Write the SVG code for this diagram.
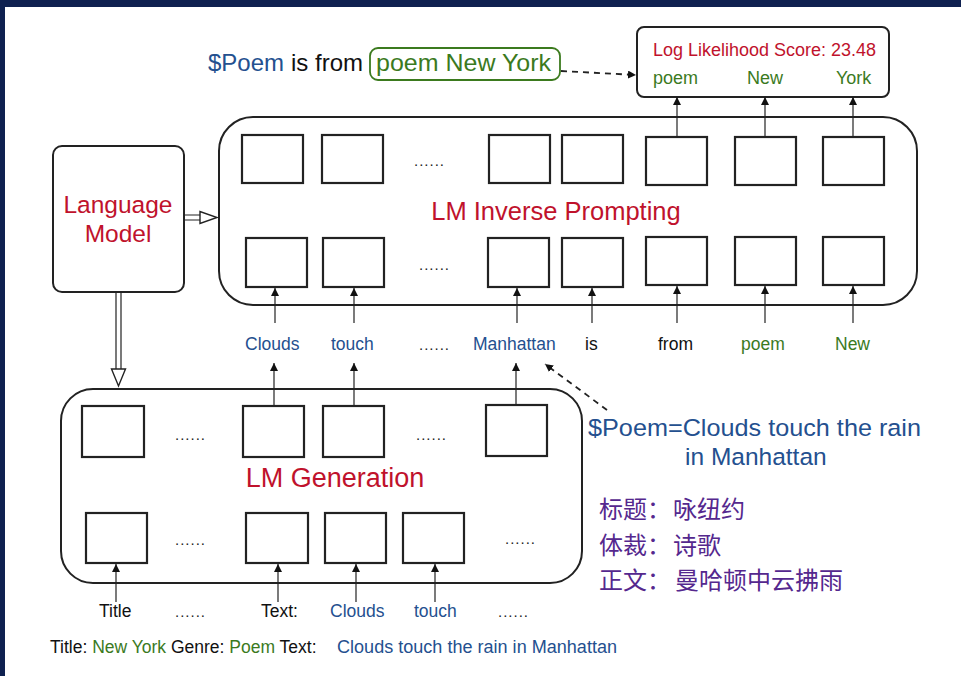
<svg xmlns="http://www.w3.org/2000/svg" width="961" height="676" viewBox="0 0 961 676">
<defs>
<style>
text{font-family:"Liberation Sans",Arial,"Noto Sans CJK SC",sans-serif;}
.box{fill:#fff;stroke:#222;stroke-width:2;}
.cell{fill:#fff;stroke:#222;stroke-width:2.2;}
.con{stroke:#222;stroke-width:1.2;fill:none;}
.dash{stroke:#222;stroke-width:1.8;fill:none;stroke-dasharray:6 5;}
.red{fill:#c0122c;}
.blue{fill:#24508f;}
.green{fill:#3b7a1e;}
.blk{fill:#111;}
.purple{fill:#55288e;}
.dots{font-size:15px;fill:#222;letter-spacing:1px;}
.hollow{fill:#fff;stroke:#222;stroke-width:1.4;}
</style>
<marker id="ah" viewBox="0 0 10 10" refX="10" refY="5" markerWidth="8" markerHeight="8" markerUnits="userSpaceOnUse" orient="auto">
<path d="M0,0 L10,5 L0,10 z" fill="#111"/>
</marker>
</defs>
<rect x="0" y="0" width="961" height="676" fill="#0f2150"/>
<rect x="5" y="7" width="956" height="669" fill="#fff"/>

<g id="query">
<text x="208" y="71" font-size="24"><tspan class="blue">$Poem</tspan><tspan class="blk" x="291">is from</tspan></text>
<rect x="370" y="48" width="190" height="32" rx="8" fill="none" stroke="#3b7a1e" stroke-width="1.8"/>
<text x="376" y="71" font-size="24.5" class="green" textLength="175" lengthAdjust="spacingAndGlyphs">poem New York</text>
</g>

<g id="score">
<rect class="box" x="637" y="27" width="252" height="70" rx="7"/>
<text x="653" y="56" font-size="18" class="red" textLength="223" lengthAdjust="spacingAndGlyphs">Log Likelihood Score: 23.48</text>
<text x="653" y="84" font-size="18" class="green">poem</text>
<text x="747" y="84" font-size="18" class="green">New</text>
<text x="836" y="84" font-size="18" class="green">York</text>
</g>

<g id="language-model">
<rect class="box" x="53" y="146" width="131" height="146" rx="9"/>
<text x="118" y="213" font-size="24.5" class="red" text-anchor="middle">Language</text>
<text x="118" y="242" font-size="24.5" class="red" text-anchor="middle">Model</text>
</g>

<g id="inverse-prompting">
<rect class="box" x="219" y="117" width="698" height="188" rx="34"/>
<rect class="cell" x="242" y="135" width="61" height="48"/>
<rect class="cell" x="322" y="135" width="61" height="48"/>
<text x="414" y="166" class="dots">......</text>
<rect class="cell" x="489" y="135" width="61" height="48"/>
<rect class="cell" x="562" y="135" width="61" height="48"/>
<rect class="cell" x="646" y="137" width="61" height="48"/>
<rect class="cell" x="735" y="137" width="61" height="48"/>
<rect class="cell" x="823" y="137" width="61" height="48"/>
<text x="556" y="220" font-size="25.5" class="red" text-anchor="middle">LM Inverse Prompting</text>
<rect class="cell" x="246" y="238" width="61" height="49"/>
<rect class="cell" x="323" y="238" width="61" height="49"/>
<text x="419" y="270" class="dots">......</text>
<rect class="cell" x="488" y="238" width="61" height="49"/>
<rect class="cell" x="562" y="238" width="61" height="49"/>
<rect class="cell" x="646" y="237" width="61" height="48"/>
<rect class="cell" x="735" y="237" width="61" height="48"/>
<rect class="cell" x="823" y="237" width="61" height="48"/>
</g>

<g id="generation">
<rect class="box" x="61" y="389" width="521" height="194" rx="32"/>
<rect class="cell" x="82" y="406" width="62" height="51"/>
<text x="175" y="440" class="dots">......</text>
<rect class="cell" x="243" y="406" width="61" height="51"/>
<rect class="cell" x="323" y="406" width="61" height="51"/>
<text x="416" y="440" class="dots">......</text>
<rect class="cell" x="486" y="405" width="61" height="51" stroke-width="2.8"/>
<text x="335" y="487" font-size="27" class="red" text-anchor="middle">LM Generation</text>
<rect class="cell" x="86" y="513" width="61" height="50"/>
<text x="175" y="545" class="dots">......</text>
<rect class="cell" x="246" y="513" width="62" height="50"/>
<rect class="cell" x="325" y="513" width="61" height="50"/>
<rect class="cell" x="403" y="513" width="61" height="50"/>
<text x="505" y="544" class="dots">......</text>
</g>

<g id="middle-words" font-size="17.5">
<text x="245" y="350" class="blue">Clouds</text>
<text x="331" y="350" class="blue">touch</text>
<text x="419" y="350" class="dots">......</text>
<text x="473" y="350" class="blue">Manhattan</text>
<text x="585" y="350" class="blk">is</text>
<text x="658" y="350" class="blk">from</text>
<text x="741" y="350" class="green">poem</text>
<text x="835" y="350" class="green">New</text>
</g>

<g id="input-words" font-size="17.5">
<text x="99" y="617" class="blk">Title</text>
<text x="175" y="617" class="dots">......</text>
<text x="261" y="617" class="blk">Text:</text>
<text x="330" y="617" class="blue">Clouds</text>
<text x="414" y="617" class="blue">touch</text>
<text x="498" y="617" class="dots">......</text>
</g>

<g id="sentence">
<text x="50" y="653" font-size="17.5"><tspan class="blk">Title: </tspan><tspan class="green">New York</tspan><tspan class="blk"> Genre: </tspan><tspan class="green">Poem</tspan><tspan class="blk"> Text:</tspan><tspan class="blue" x="337" textLength="280" lengthAdjust="spacingAndGlyphs">Clouds touch the rain in Manhattan</tspan></text>
</g>

<g id="poem-def">
<text x="588" y="436" font-size="24.5" class="blue" textLength="333" lengthAdjust="spacingAndGlyphs">$Poem=Clouds touch the rain</text>
<text x="685" y="465" font-size="24.5" class="blue">in Manhattan</text>
</g>

<g id="chinese">
<text x="599" y="518" font-size="24" class="purple" font-family="'Noto Sans CJK SC',sans-serif">标题：<tspan x="673">咏纽约</tspan></text>
<text x="599" y="554" font-size="24" class="purple" font-family="'Noto Sans CJK SC',sans-serif">体裁：<tspan x="673">诗歌</tspan></text>
<text x="599" y="589" font-size="24" class="purple" font-family="'Noto Sans CJK SC',sans-serif">正文：<tspan x="675">曼哈顿中云拂雨</tspan></text>
</g>

<g id="connectors">
<path class="dash" d="M561,71 L636,75" marker-end="url(#ah)"/>
<path class="con" d="M677,137 V97" marker-end="url(#ah)"/>
<path class="con" d="M765,137 V97" marker-end="url(#ah)"/>
<path class="con" d="M853,137 V97" marker-end="url(#ah)"/>
<path class="con" d="M275,323 V288" marker-end="url(#ah)"/>
<path class="con" d="M354,323 V288" marker-end="url(#ah)"/>
<path class="con" d="M517,323 V288" marker-end="url(#ah)"/>
<path class="con" d="M592,323 V288" marker-end="url(#ah)"/>
<path class="con" d="M677,323 V286" marker-end="url(#ah)"/>
<path class="con" d="M765,323 V286" marker-end="url(#ah)"/>
<path class="con" d="M853,323 V286" marker-end="url(#ah)"/>
<path class="con" d="M274,406 V363" marker-end="url(#ah)"/>
<path class="con" d="M354,406 V363" marker-end="url(#ah)"/>
<path class="con" d="M516,405 V363" marker-end="url(#ah)"/>
<path class="con" d="M116,602 V564" marker-end="url(#ah)"/>
<path class="con" d="M278,602 V564" marker-end="url(#ah)"/>
<path class="con" d="M356,602 V564" marker-end="url(#ah)"/>
<path class="con" d="M435,602 V564" marker-end="url(#ah)"/>
<path class="dash" d="M607,410 L545,364" marker-end="url(#ah)"/>
<path class="con" d="M184,215 H200 M184,220 H200"/>
<polygon class="hollow" points="200,211.5 200,223.5 217,217.5"/>
<path class="con" d="M116,292 V369 M121,292 V369"/>
<polygon class="hollow" points="111.5,369 125.5,369 118.5,386"/>
</g>
</svg>
